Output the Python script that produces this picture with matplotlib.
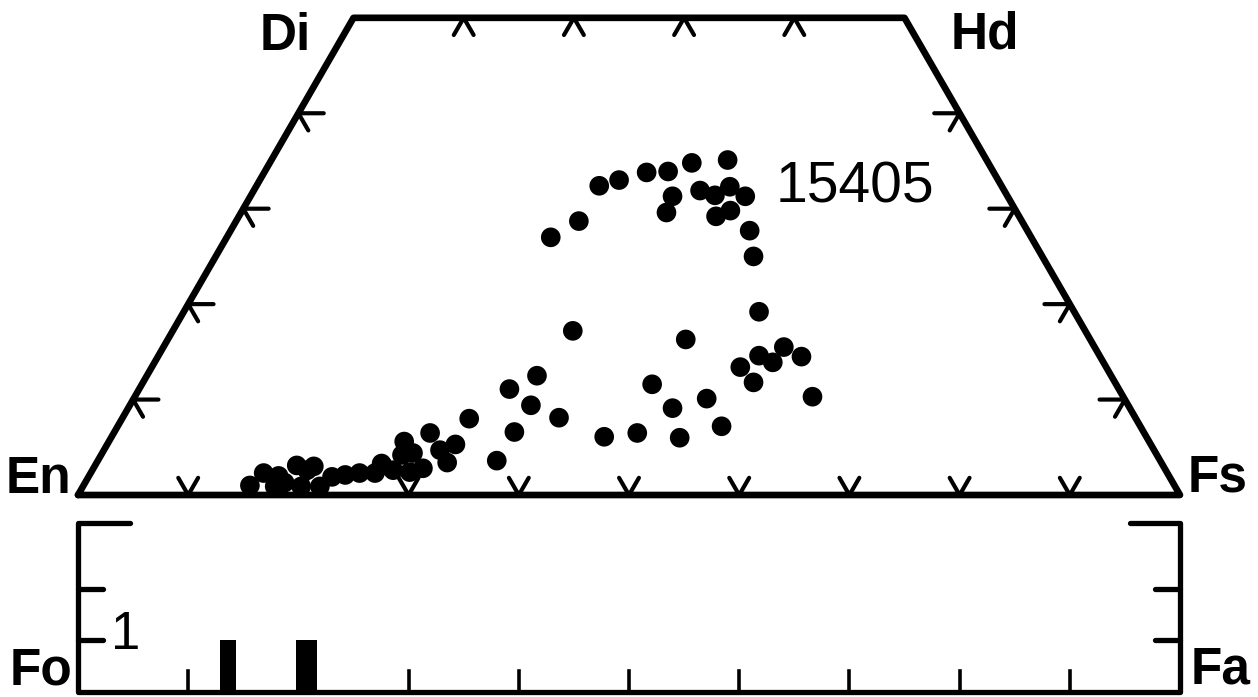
import matplotlib
matplotlib.use("Agg")
import matplotlib.pyplot as plt
import numpy as np

# pyroxene compositions, mol% Wo and Fs (En = rest)
wo = [32.4, 33.0, 33.8, 33.9, 34.8, 35.1, 31.3, 29.6, 31.9, 31.4,
      32.3, 31.3, 29.2, 29.8, 27.7, 25.0, 28.7, 27.0, 19.2, 17.2,
      16.3, 15.5, 14.6, 13.9, 14.5, 13.4, 11.8, 10.3, 12.5, 11.1,
      9.4, 8.1, 11.6, 10.1, 9.1, 7.2, 6.6, 6.1, 6.5, 6.0,
      8.0, 6.5, 5.3, 4.7, 3.4, 5.6, 4.4, 4.2, 2.8, 3.1,
      2.3, 2.4, 3.6, 1.0, 2.3, 0.9, 1.3, 3.1, 3.0, 0.9,
      0.9, 1.9, 2.1, 2.3, 3.3, 2.0, 2.6, 2.6]
fs = [31.1, 32.6, 34.7, 36.6, 38.3, 41.4, 38.3, 38.6, 40.5, 42.1,
      43.0, 44.9, 43.3, 44.3, 47.1, 48.8, 31.1, 29.4, 52.2, 36.3,
      47.0, 56.3, 54.5, 56.1, 58.4, 53.4, 55.4, 61.5, 35.4, 33.6,
      36.4, 39.6, 46.3, 52.0, 49.4, 54.8, 36.3, 44.7, 47.5, 51.6,
      31.5, 28.7, 31.6, 30.5, 31.8, 26.8, 28.2, 27.3, 29.9, 26.1,
      25.8, 28.9, 36.2, 15.1, 15.7, 17.4, 18.1, 18.3, 19.9, 19.8,
      21.5, 22.1, 23.2, 24.4, 25.9, 17.2, 19.5, 27.3]

# olivine histogram (mol% Fa, count)
ol_fa = [13.6, 20.7]
ol_count = [1, 1]
ol_width = [1.5, 1.9]

sample = "15405"
tick_pos = [10, 20, 30, 40, 50, 60, 70, 80, 90]
side_pos = [10, 20, 30, 40]

S3 = np.sqrt(3) / 2


def tern(w, f):
    w = np.asarray(w, float)
    f = np.asarray(f, float)
    return f + w / 2, w * S3


bold = dict(family=["Liberation Sans Narrow", "Liberation Sans", "DejaVu Sans"],
            fontweight="bold", fontsize=37)

fig = plt.figure(figsize=(12.58, 6.97), dpi=100)
ax = fig.add_axes([0, 0, 1, 1])
ax.set_xlim(-78 / 11.02, (1258 - 78) / 11.02)
ax.set_ylim(-(697 - 495) / 11.02, 495 / 11.02)
ax.axis("off")

# quadrilateral outline En-Di-Hd-Fs
qx, qy = tern([0, 50, 50, 0, 0], [0, 0, 50, 100, 0])
ax.plot(qx, qy, color="black", lw=4.8, solid_joinstyle="round",
        solid_capstyle="round", zorder=2)

# chevron ticks
L1, L2 = 1.8, 2.3
tk = dict(color="black", lw=3.0, solid_capstyle="round", zorder=2)
for p in tick_pos:
    x0, y0 = tern(0, p)
    ax.plot([x0 - 0.5 * L1, x0, x0 + 0.5 * L1], [y0 + S3 * L1, y0, y0 + S3 * L1], **tk)
for p in side_pos:
    x0, y0 = tern(50, p)
    ax.plot([x0 - 0.5 * L1, x0, x0 + 0.5 * L1], [y0 - S3 * L1, y0, y0 - S3 * L1], **tk)
    x0, y0 = tern(p, 0)
    ax.plot([x0 + L2, x0, x0 + 0.5 * L1], [y0, y0, y0 - S3 * L1], **tk)
    x0, y0 = tern(p, 100 - p)
    ax.plot([x0 - L2, x0, x0 - 0.5 * L1], [y0, y0, y0 - S3 * L1], **tk)

px, py = tern(wo, fs)
ax.scatter(px, py, s=200, color="black", edgecolors="none", zorder=3)

ax.text(70.5, 27.9, sample, fontsize=41, family="Liberation Sans",
        ha="center", va="center")
ax.text(18.8, 41.6, "Di", ha="center", va="center", **bold)
ax.text(82.3, 41.7, "Hd", ha="center", va="center", **bold)
ax.text(-3.6, 1.4, "En", ha="center", va="center", **bold)
ax.text(103.4, 1.5, "Fs", ha="center", va="center", **bold)
ax.text(-3.4, -16.0, "Fo", ha="center", va="center", **bold)
ax.text(103.7, -15.9, "Fa", ha="center", va="center", **bold)

# olivine histogram
hx = fig.add_axes([78 / 1258, 5.5 / 697, 1102 / 1258, 169 / 697])
hx.set_xlim(0, 100)
hx.set_ylim(0, 3.3)
hx.axis("off")
ln = dict(color="black", lw=3.8, solid_capstyle="round", clip_on=False)
hx.plot([4.7, 0, 0, 100, 100, 95.5], [3.3, 3.3, 0, 0, 3.3, 3.3],
        solid_joinstyle="round", **ln)
for c in [1, 2]:
    hx.plot([0, 2.3], [c, c], **ln)
    hx.plot([100, 97.7], [c, c], **ln)
for p in tick_pos:
    hx.plot([p, p], [0, 0.4], color="black", lw=2.6, clip_on=False)
hx.bar(ol_fa, ol_count, width=ol_width, color="black")
hx.text(4.3, 1.1, "1", fontsize=38, family="Liberation Sans",
        ha="center", va="center")

fig.savefig("out.png", dpi=100)
